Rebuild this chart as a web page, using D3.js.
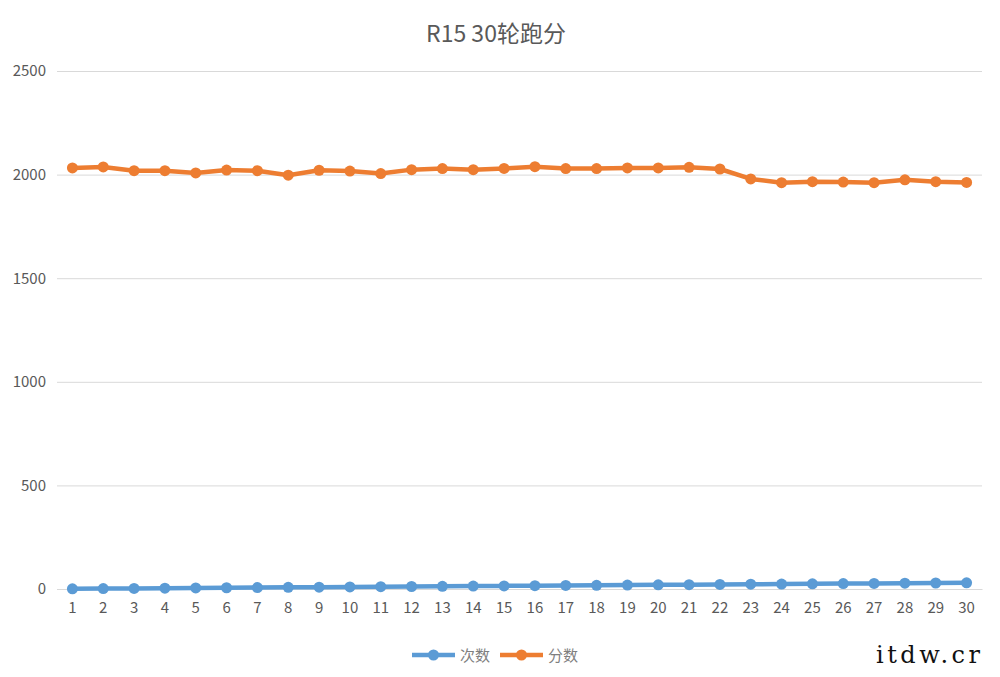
<!DOCTYPE html>
<html><head><meta charset="utf-8">
<script src="https://cdn.jsdelivr.net/npm/d3@7"></script>
<style>body{margin:0;background:#fff}</style>
</head><body>
<svg id="c" width="1000" height="677"></svg>
<script>
const categories = d3.range(1, 31).map(String);
const countValues = [1,2,3,4,5,6,7,8,9,10,11,12,13,14,15,16,17,18,19,20,21,22,23,24,25,26,27,28,29,30];
const scoreValues = [2032,2037,2019,2019,2008,2022,2019,1997,2021,2017,2005,2024,2029,2024,2030,2038,2029,2029,2032,2032,2035,2027,1979,1961,1966,1964,1961,1975,1966,1962];
const yTicks = [0,500,1000,1500,2000,2500];
const seriesNames = ["次数","分数"];
const colors = ["#5B9BD5","#ED7D31"];
const title = "R15 30轮跑分";

const svg = d3.select("#c");
const font = "'Noto Sans CJK SC', 'Open Sans', sans-serif";
const x = d3.scaleBand().domain(categories).range([57, 982]);
const y = d3.scaleLinear().domain([0, 2500]).range([589, 71]);

svg.append("text").attr("x", 496).attr("y", 42).attr("text-anchor","middle")
  .attr("font-family", font).attr("font-size", 23).attr("fill","#595959").text(title);

// gridlines
const yAxis = d3.axisLeft(y).tickValues(yTicks).tickFormat(d3.format("d")).tickSize(-(982-57)).tickPadding(11);
const ga = svg.append("g").attr("transform","translate(57,0)").call(yAxis);
ga.select(".domain").remove();
ga.selectAll(".tick line").attr("stroke","#d9d9d9").attr("stroke-width",1);
ga.selectAll(".tick text").attr("font-family", font).attr("font-size", 15).attr("fill","#595959");

const xAxis = d3.axisBottom(x).tickSize(0).tickPadding(13);
const gx = svg.append("g").attr("transform","translate(0,589)").call(xAxis);
gx.select(".domain").attr("stroke","#d9d9d9");
gx.selectAll(".tick text").attr("font-family", font).attr("font-size", 15).attr("fill","#595959");

const series = [countValues, scoreValues];
series.forEach((vals, i) => {
  const line = d3.line().x((d, j) => x(categories[j]) + x.bandwidth()/2).y(d => y(d));
  svg.append("path").datum(vals).attr("d", line).attr("fill","none")
    .attr("stroke", colors[i]).attr("stroke-width", 4.5).attr("stroke-linejoin","round");
  svg.append("g").selectAll("circle").data(vals).join("circle")
    .attr("cx", (d, j) => x(categories[j]) + x.bandwidth()/2).attr("cy", d => y(d))
    .attr("r", 5.5).attr("fill", colors[i]);
});

// legend
const legendX = [412, 500];
seriesNames.forEach((n, i) => {
  const g = svg.append("g").attr("transform", `translate(${legendX[i]},655)`);
  g.append("line").attr("x1",0).attr("x2",43).attr("y1",0).attr("y2",0)
    .attr("stroke", colors[i]).attr("stroke-width", 4.5);
  g.append("circle").attr("cx",21.5).attr("cy",0).attr("r",5.5).attr("fill",colors[i]);
  g.append("text").attr("x",48).attr("y",5.5).attr("font-family",font).attr("font-size",15)
    .attr("fill","#7f7f7f").text(n);
});

svg.append("text").attr("x", 876).attr("y", 663).attr("font-family","'DejaVu Serif', 'Liberation Serif', serif")
  .attr("font-size", 24).attr("fill","#111").attr("letter-spacing", 3.5).text("itdw.cr");
</script>
</body></html>
